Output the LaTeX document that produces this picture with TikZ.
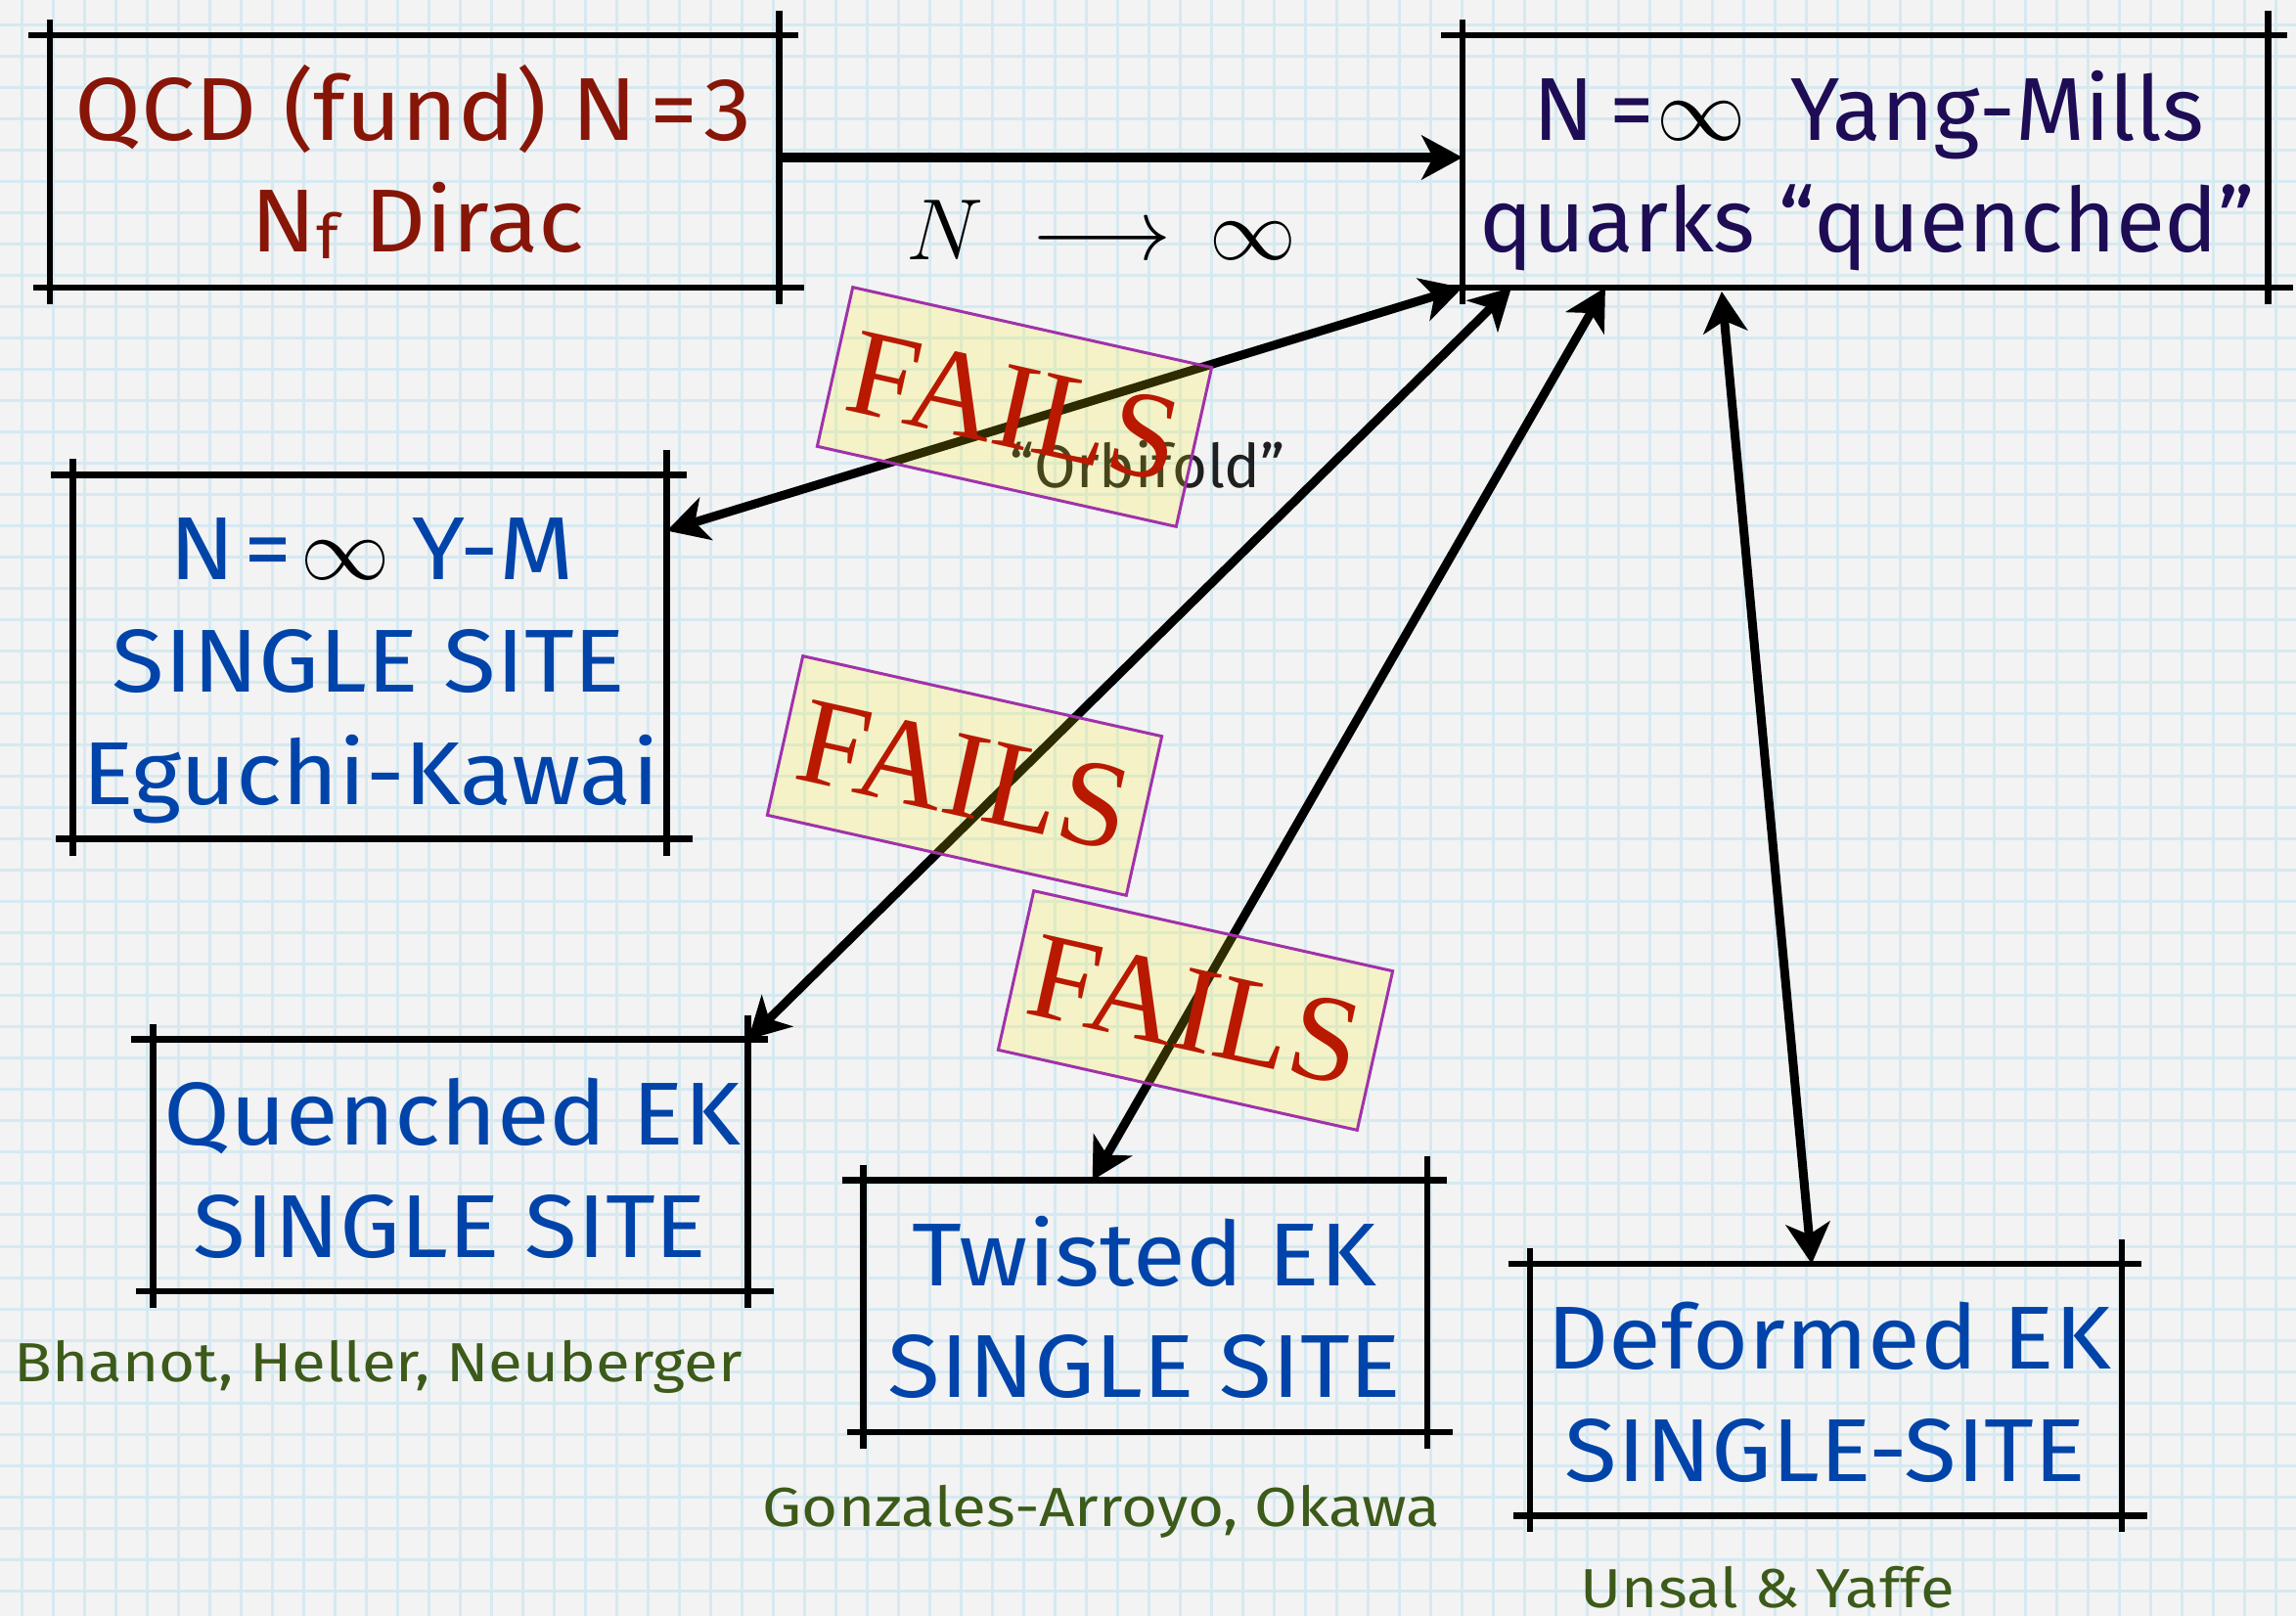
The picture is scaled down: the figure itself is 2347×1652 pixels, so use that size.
\documentclass[tikz,border=0pt]{standalone}
\usepackage{graphicx}
\usepackage{fontspec}
\setmainfont{Fira Sans}[FakeStretch=1.075]
\newfontfamily\ymfamily{Fira Sans}
\newfontfamily\authfamily{Fira Sans}[FakeStretch=1.13]
\newfontfamily\failsfont{Liberation Serif}
\usetikzlibrary{arrows.meta,calc}

\definecolor{paper}{HTML}{F3F3F3}
\definecolor{gridblue}{HTML}{D6E9F1}
\definecolor{qcdred}{HTML}{871608}
\definecolor{ymindigo}{HTML}{1E0C55}
\definecolor{ekblue}{HTML}{0044AA}
\definecolor{authgreen}{HTML}{3C5A19}
\definecolor{failred}{HTML}{B91900}
\definecolor{failedge}{HTML}{A032AA}

\newcommand\boxfont{\fontsize{27.4}{30}\selectfont}
\newcommand\authfont{\authfamily\fontsize{16.9}{18}\selectfont}
\newcommand\bigInf{{\color{black}\scalebox{1.1}{$\infty$}}}

\tikzset{
  gridline/.style={draw=gridblue, line width=0.9pt},
  framebox/.style={rectangle, draw=none, inner sep=0pt},
  frameline/.style={line width=2pt, black},
  boxtext/.style={anchor=base, inner sep=0pt, font=\boxfont},
  qcdtext/.style={boxtext, text=qcdred},
  ymtext/.style={boxtext, text=ymindigo, font=\ymfamily\boxfont},
  ektext/.style={boxtext, text=ekblue},
  authtext/.style={anchor=base, inner sep=0pt, font=\authfont, text=authgreen},
  orbtext/.style={anchor=base, inner sep=0pt, font=\ymfamily\fontsize{18.5}{20}\selectfont, text=black!88},
  limtext/.style={anchor=base, inner sep=0pt, font=\fontsize{25.8}{28}\selectfont},
  >={Stealth[length=12.5pt,width=13.5pt,inset=3.5pt]},
  mainlink/.style={line width=3pt, ->},
  link/.style={line width=2.7pt, <->},
  failsbox/.style={rectangle, rotate=-12.6, inner sep=0pt,
    minimum width=112.8pt, minimum height=50pt,
    fill=yellow, fill opacity=0.18, text opacity=1,
    draw=failedge, draw opacity=1, line width=0.9pt,
    text=failred, font=\failsfont\fontsize{38}{38}\selectfont},
}

\begin{document}
\begin{tikzpicture}[x=0.3pt,y=-0.3pt]
\useasboundingbox (0,0) rectangle (2347,1652);

% squared paper
\fill[paper] (0,0) rectangle (2347,1652);
\foreach \k in {0,...,72} \draw[gridline] (22+32*\k,0) -- (22+32*\k,1652);
\foreach \k in {0,...,50} \draw[gridline] (0,26+32*\k) -- (2347,26+32*\k);

% the six theories
\node[framebox, minimum width=223.2pt, minimum height=77pt]  (qcd) at (423.6,165) {};
\node[framebox, minimum width=246.6pt, minimum height=77pt]  (ym)  at (1906.6,165) {};
\node[framebox, minimum width=181.8pt, minimum height=111.3pt] (ek) at (378,671.5) {};
\node[framebox, minimum width=182.1pt, minimum height=76.8pt] (qek) at (460.6,1191.3) {};
\node[framebox, minimum width=172.5pt, minimum height=76.8pt] (tek) at (1170.8,1335.3) {};
\node[framebox, minimum width=181.1pt, minimum height=76.8pt] (dek) at (1866.4,1420.7) {};

% hand-drawn frames whose sides run past the corners
\foreach \n in {qcd,ym,ek,qek,tek,dek}{
  \draw[frameline] ($(\n.north west)+(-22,0)$) -- ($(\n.north east)+(20,0)$);
  \draw[frameline] ($(\n.south west)+(-17,0)$) -- ($(\n.south east)+(26,0)$);
  \draw[frameline] ($(\n.north west)+(0,-16)$) -- ($(\n.south west)+(0,17)$);
  \draw[frameline] ($(\n.north east)+(0,-25)$) -- ($(\n.south east)+(0,17)$);
}

% box contents
\node[qcdtext] (qcdA) at (422.7,144) {QCD (fund) N\kern0.14em=\kern0.06em3};
\node[qcdtext] (qcdB) at (427,258) {N\raisebox{-2pt}{\fontsize{19}{19}\selectfont f} Dirac};

\node[ymtext] (ymA) at (1910,144) {N\kern0.18em=\kern0.02em\bigInf\hspace{0.5em}Yang-Mills};
\node[ymtext] (ymB) at (1908.5,258) {quarks “quenched”};

\node[ektext] (ekA) at (380,593) {N\kern0.1em=\kern0.1em\bigInf\kern0.25em Y-M};
\node[ektext] (ekB) at (377,708) {SINGLE SITE};
\node[ektext] (ekC) at (379,823) {Eguchi-Kawai};

\node[ektext] (qekA) at (462.5,1170) {Quenched EK};
\node[ektext] (qekB) at (460,1285) {SINGLE SITE};

\node[ektext] (tekA) at (1170,1315) {Twisted EK};
\node[ektext] (tekB) at (1170,1428) {SINGLE SITE};

\node[ektext] (dekA) at (1870,1399) {Deformed EK};
\node[ektext] (dekB) at (1866,1514) {SINGLE-SITE};

% authors
\node[authtext] (qekAuth) at (387,1412) {Bhanot, Heller, Neuberger};
\node[authtext] (tekAuth) at (1126,1560) {Gonzales-Arroyo, Okawa};
\node[authtext] (dekAuth) at (1807,1643) {Unsal \& Yaffe};

% connectors
\draw[mainlink] ([yshift=1.2pt]qcd.east) -- ([yshift=1.2pt]ym.west);
\node[limtext] (limit) at (1126,266) {\scalebox{1.07}{$N\mkern5mu\longrightarrow\mkern3mu\infty$}};

\draw[link] (ek.23.6) -- (ym.south west);
\draw[link] ($(ym.south west)+(50,0)$) -- (qek.north east);
\draw[link] ($(ym.south west)+(146,0)$) -- ($(tek.north west)+(234,0)$);
\draw[link] ($(ym.south west)+(265,4)$) -- ($(dek.north west)+(288,0)$);

\node[orbtext] (orbifold) at (1173,499) {“Orbifold”};

% failure stamps laid over the connectors
\node[failsbox] (failA) at (1037,416) {FAILS};
\node[failsbox] (failB) at (986,793) {FAILS};
\node[failsbox] (failC) at (1222,1033) {FAILS};
\end{tikzpicture}
\end{document}
